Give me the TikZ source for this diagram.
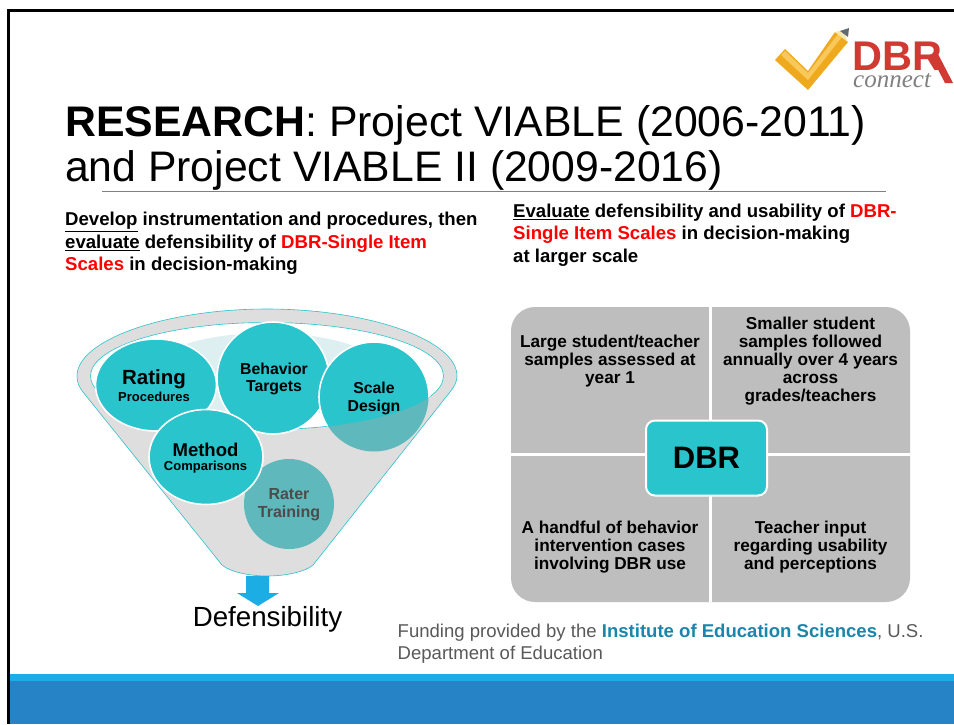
\documentclass[tikz,border=0pt]{standalone}
\usepackage{fontspec}
\setmainfont{Liberation Sans}
\newfontfamily\logofont{Liberation Serif}
\usetikzlibrary{calc}
\definecolor{teal1}{HTML}{29C4CC}
\definecolor{tealdim}{HTML}{5FB8BC}
\definecolor{tealpale}{HTML}{DDEFF0}
\definecolor{funnelgray}{HTML}{DEDEDE}
\definecolor{panelgray}{HTML}{BEBEBE}
\definecolor{bandlight}{HTML}{1CADE4}
\definecolor{banddark}{HTML}{2683C6}
\definecolor{logored}{HTML}{D03A32}
\definecolor{fundblue}{HTML}{1A86AC}
\definecolor{checkdark}{HTML}{EFA91E}
\definecolor{checklight}{HTML}{F8C95A}
\definecolor{pencilwood}{HTML}{F8E6B0}
\definecolor{graphite}{HTML}{5F6B73}
\tikzset{
  x=1pt,y=-1pt,
  plabel/.style={align=center,font=\fontsize{17.2}{18}\selectfont\bfseries,text=black,inner sep=0pt},
  ltext/.style={anchor=north west,align=left,inner sep=0pt,font=\fontsize{18.6}{22.5}\selectfont\bfseries},
  pale/.style={fill=tealpale},
  blob/.style={fill=teal1,draw=white,line width=1.6pt},
}
\begin{document}
\begin{tikzpicture}
\useasboundingbox (0,0) rectangle (954,724);
\fill[white] (0,0) rectangle (954,724);
% frame and band
\fill[bandlight] (9,674) rectangle (954,681);
\fill[banddark] (9,681) rectangle (954,724);
\draw[black,line width=3pt] (8.5,724) -- (8.5,10.5) -- (954,10.5);
% logo
\fill[checkdark] (775,60) -- (785,49) -- (808,71) -- (835,32) -- (848,42) -- (808,90) -- cycle;
\fill[checklight] (781,55) -- (808,80) -- (842,37) -- (838,34) -- (808,73) -- (785,51) -- cycle;
\fill[pencilwood] (835,32) -- (843,30) -- (848,42) -- cycle;
\fill[graphite] (840,31) -- (849,28) -- (848,37) -- cycle;
\fill[logored] (931,56) -- (938,54) -- (953,83) -- (945,83) -- cycle;
\node[anchor=base west,inner sep=0pt,text=logored,font=\fontsize{41.5}{42}\selectfont\bfseries] (dbrlogo) at (852.5,70) {DBR};
\node[anchor=base west,inner sep=0pt,text=gray,font=\logofont\itshape\fontsize{25}{25}\selectfont] (connect) at (853,87.5) {connect};
% title
\node[anchor=base west,inner sep=0pt,font=\fontsize{42.8}{41}\selectfont] (t1) at (65,136) {\textbf{RESEARCH}: Project VIABLE (2006-2011)};
\node[anchor=base west,inner sep=0pt,font=\fontsize{42.7}{41}\selectfont] (t2) at (65,181) {and Project VIABLE II (2009-2016)};
\coordinate (ruleL) at (102,191);
\coordinate (ruleR) at (886,191);
\draw[gray,line width=.7pt] (ruleL) -- (ruleR);
% intro texts
\node[ltext] (leftcol) at (65,212) {\underline{Develop} instrumentation and procedures, then\\\underline{evaluate} defensibility of \textcolor{red}{DBR-Single Item}\\\textcolor{red}{Scales} in decision-making};
\node[ltext] (rightcol) at (513,203.5) {\underline{Evaluate} defensibility and usability of \textcolor{red}{DBR-}\\\textcolor{red}{Single Item Scales} in decision-making\\at larger scale};
% funnel
\path[fill=funnelgray,draw=teal1,line width=.6pt]
  (83,392) .. controls (79,387) and (77,382) .. (77,376)
  .. controls (77,340) and (165,309) .. (267,309)
  .. controls (369,309) and (457,340) .. (457,376)
  .. controls (457,382) and (454,387) .. (450,392)
  -- (313,565) .. controls (305,572) and (285,576) .. (267,576)
  .. controls (250,576) and (230,572) .. (222,565) -- cycle;
\path[fill=white,draw=teal1,line width=.6pt] (267,376) ellipse [x radius=176.5,y radius=53.5];
\begin{scope}
\clip (267,376) ellipse [x radius=176,y radius=53];
\fill[pale] (267,375) ellipse [x radius=120,y radius=42];
\end{scope}
% arrow
\fill[bandlight] (246,576) -- (269,576) -- (269,593) -- (279,593) -- (258,606) -- (237,593) -- (246,593) -- cycle;
\node[anchor=base,inner sep=0pt,font=\fontsize{27.7}{27}\selectfont] (def) at (267.5,626) {Defensibility};
% circles
\node[circle,fill=tealdim,inner sep=0pt,minimum size=90pt] (rater) at (289,504) {};
\node[inner sep=0pt,text=black!70,align=center,font=\fontsize{16}{18}\selectfont\bfseries] (ratertext) at (289,504.5) {Rater\\Training};
\path[blob] (156,385) ellipse [x radius=60.5,y radius=46];
\path[blob] (273,378) circle [radius=56];
\path[fill=tealdim,draw=none] (374,397) circle [radius=54.5];
\begin{scope}
\clip (267,376) ellipse [x radius=176.5,y radius=53.5];
\path[blob] (374,397) circle [radius=55];
\end{scope}
\path[blob] (206,457) ellipse [x radius=57,y radius=47.5];
\node[inner sep=0pt,align=center] (rating) at (154,385.5) {{\fontsize{20.5}{22}\selectfont\bfseries Rating}\\[2.5pt]{\fontsize{13}{14}\selectfont\bfseries Procedures}};
\node[inner sep=0pt,align=center,font=\fontsize{15.8}{17.5}\selectfont\bfseries] (behavior) at (274,379) {Behavior\\Targets};
\node[inner sep=0pt,align=center,font=\fontsize{15.8}{17.5}\selectfont\bfseries] (scale) at (374,398.5) {Scale\\Design};
\node[inner sep=0pt,align=center] (method) at (205.5,458) {{\fontsize{18.5}{20}\selectfont\bfseries Method}\\[2.5pt]{\fontsize{13}{14}\selectfont\bfseries Comparisons}};
% matrix
\fill[panelgray,rounded corners=24pt] (511,307) rectangle (910,602);
\draw[white,line width=3pt] (710.5,307) -- (710.5,602);
\draw[white,line width=3pt] (511,454.5) -- (910,454.5);
\node[plabel] (q1) at (610,361.5) {Large student/teacher\\samples assessed at\\year 1};
\node[plabel] (q2) at (810.5,361) {Smaller student\\samples followed\\annually over 4 years\\across\\grades/teachers};
\node[plabel] (q3) at (610,547.5) {A handful of behavior\\intervention cases\\involving DBR use};
\node[plabel] (q4) at (810.5,547.5) {Teacher input\\regarding usability\\and perceptions};
\node[draw=white,line width=2pt,fill=teal1,rounded corners=9pt,minimum width=121pt,minimum height=75pt,inner sep=0pt,font=\fontsize{31}{31}\selectfont\bfseries] (dbr) at (706.5,458) {DBR};
% funding
\node[anchor=north west,align=left,inner sep=0pt,text=black!65,font=\fontsize{18.55}{22}\selectfont] (fund) at (397.5,624) {Funding provided by the \textcolor{fundblue}{\textbf{Institute of Education Sciences}}, U.S.\\Department of Education};
\end{tikzpicture}
\end{document}
